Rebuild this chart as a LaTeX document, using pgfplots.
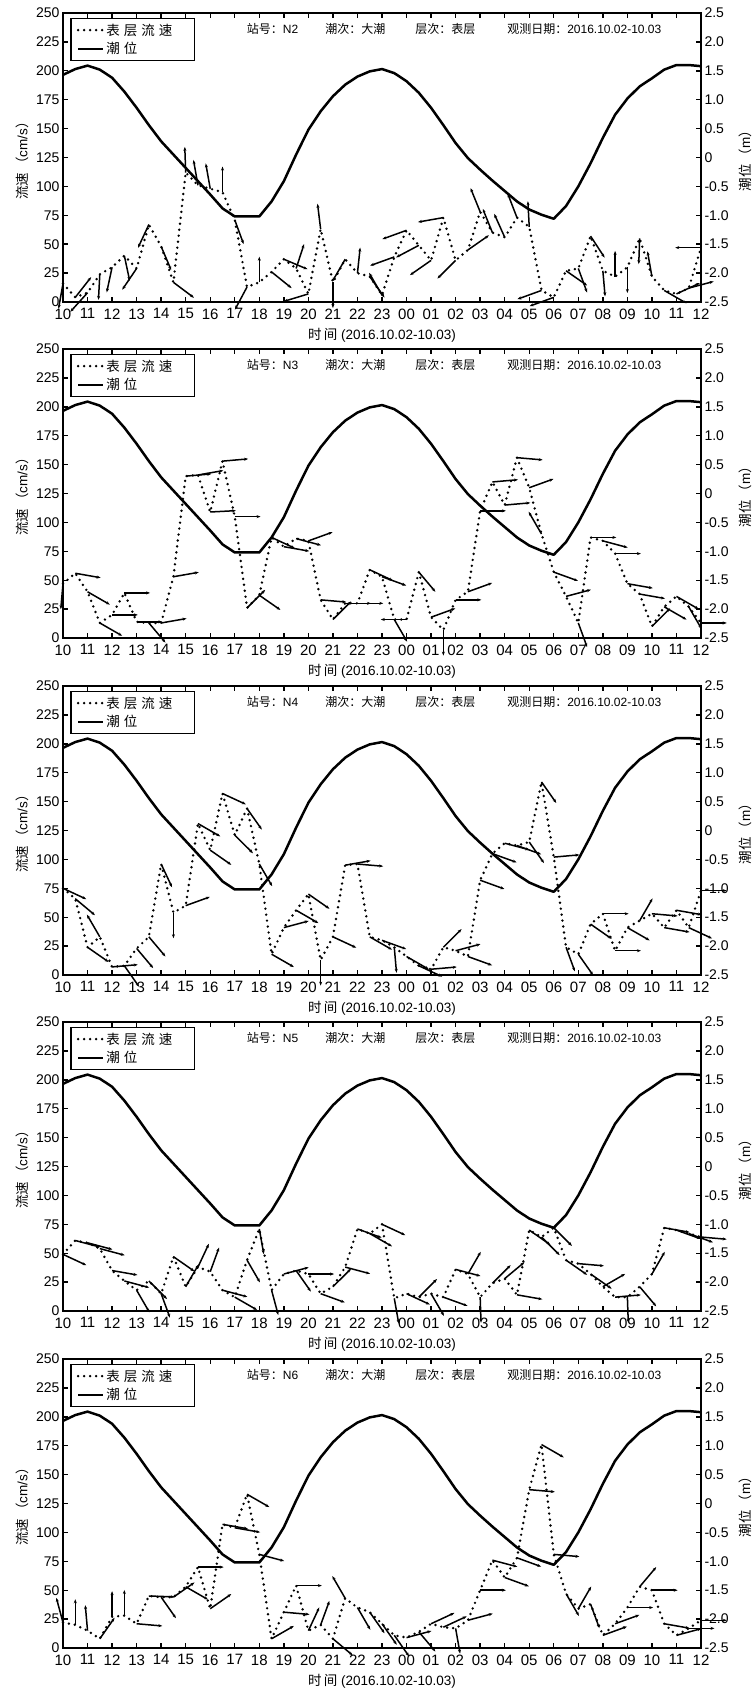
\documentclass[border=0pt]{standalone}
\usepackage{fontspec}
\setmainfont{Liberation Sans}
\newfontfamily\cjk{Noto Sans CJK SC}
\usepackage{pgfplots}
\pgfplotsset{compat=1.18}
\usepackage{pgfplotstable}
\usetikzlibrary{arrows.meta}

% tide level (m), hours after 10:00
\pgfplotstableread[row sep=\\]{t h\\
0 1.43\\ 0.5 1.53\\ 1 1.59\\ 1.5 1.52\\ 2 1.38\\ 2.5 1.14\\ 3 0.86\\ 3.5 0.56\\ 4 0.28\\ 4.5 0.05\\
5 -0.18\\ 5.5 -0.41\\ 6 -0.64\\ 6.5 -0.88\\ 7 -1.02\\ 7.5 -1.02\\ 8 -1.02\\ 8.5 -0.76\\ 9 -0.41\\ 9.5 0.05\\
10 0.48\\ 10.5 0.80\\ 11 1.06\\ 11.5 1.26\\ 12 1.40\\ 12.5 1.49\\ 13 1.53\\ 13.5 1.46\\ 14 1.32\\ 14.5 1.12\\
15 0.86\\ 15.5 0.56\\ 16 0.25\\ 16.5 -0.01\\ 17 -0.21\\ 17.5 -0.40\\ 18 -0.58\\ 18.5 -0.76\\ 19 -0.90\\ 19.5 -0.99\\
20 -1.06\\ 20.5 -0.84\\ 21 -0.50\\ 21.5 -0.10\\ 22 0.34\\ 22.5 0.74\\ 23 1.02\\ 23.5 1.23\\ 24 1.37\\ 24.5 1.52\\
25 1.60\\ 25.5 1.60\\ 26 1.58\\}\tideT

% speed (cm/s) and vector direction (deg) per station
\pgfplotstableread[row sep=\\]{t v a\\
0 16 -100\\ 0.5 4 52\\ 1 8 228\\ 1.5 24 -93\\ 2 30 -102\\ 2.5 40 -78\\ 3 29 236\\ 3.5 67 245\\ 4 48 -67\\ 4.5 17 -37\\
5 112 92\\ 5.5 101 100\\ 6 98 100\\ 6.5 95 90\\ 7 71 -70\\ 7.5 13 242\\ 8 17 90\\ 8.5 26 -39\\ 9 37 -23\\ 9.5 29 72\\
10 7 197\\ 10.5 63 97\\ 11 17 -90\\ 11.5 37 240\\ 12 25 84\\ 12.5 22 -55\\ 13 6 120\\ 13.5 39 200\\ 14 62 200\\ 14.5 49 208\\
15 36 215\\ 15.5 73 190\\ 16 36 225\\ 16.5 45 35\\ 17 78 112\\ 17.5 60 112\\ 18 56 114\\ 18.5 73 111\\ 19 65 93\\ 19.5 10 200\\
20 4 200\\ 20.5 27 -35\\ 21 29 -70\\ 21.5 57 -57\\ 22 27 -85\\ 22.5 22 90\\ 23 30 -90\\ 23.5 55 -92\\ 24 22 100\\ 24.5 10 -30\\
25 7 25\\ 25.5 12 15\\ 26 47 180\\}\sA

\pgfplotstableread[row sep=\\]{t v a\\
0 47 -95\\ 0.5 56 -10\\ 1 40 -30\\ 1.5 13 -30\\ 2 20 0\\ 2.5 39 0\\ 3 14 0\\ 3.5 13 -50\\ 4 13 10\\ 4.5 53 10\\
5 140 5\\ 5.5 141 10\\ 6 109 3\\ 6.5 153 5\\ 7 105 0\\ 7.5 26 45\\ 8 37 -35\\ 8.5 87 -25\\ 9 79 -10\\ 9.5 86 -15\\
10 84 20\\ 10.5 33 -5\\ 11 16 45\\ 11.5 30 0\\ 12 30 0\\ 12.5 59 -25\\ 13 53 -20\\ 13.5 16 -60\\ 14 16 180\\ 14.5 57 -50\\
15 18 20\\ 15.5 7 -90\\ 16 33 0\\ 16.5 40 20\\ 17 110 0\\ 17.5 135 5\\ 18 115 5\\ 18.5 156 -5\\ 19 130 20\\ 19.5 90 120\\
20 57 -20\\ 20.5 36 15\\ 21 13 -70\\ 21.5 87 0\\ 22 84 -15\\ 22.5 73 0\\ 23 47 -10\\ 23.5 38 -10\\ 24 10 45\\ 24.5 27 -30\\
25 36 -30\\ 25.5 27 -60\\ 26 13 0\\}\sB

\pgfplotstableread[row sep=\\]{t v a\\
0 75 -25\\ 0.5 66 -40\\ 1 24 -35\\ 1.5 33 120\\ 2 7 5\\ 2.5 8 -55\\ 3 23 -50\\ 3.5 33 -50\\ 4 96 -65\\ 4.5 54 -90\\
5 60 20\\ 5.5 131 -30\\ 6 108 -35\\ 6.5 157 -25\\ 7 121 -45\\ 7.5 144 -55\\ 8 96 -60\\ 8.5 18 -30\\ 9 41 15\\ 9.5 56 -30\\
10 70 -35\\ 10.5 13 -90\\ 11 33 -25\\ 11.5 95 10\\ 12 96 -5\\ 12.5 33 -30\\ 13 30 -20\\ 13.5 24 -85\\ 14 16 -30\\ 14.5 8 -25\\
15 5 5\\ 15.5 24 45\\ 16 21 15\\ 16.5 16 -20\\ 17 82 -20\\ 17.5 105 -20\\ 18 114 -15\\ 18.5 112 -20\\ 19 115 -55\\ 19.5 167 -55\\
20 102 5\\ 20.5 24 -70\\ 21 18 -55\\ 21.5 44 -35\\ 22 53 0\\ 22.5 21 0\\ 23 41 -30\\ 23.5 47 60\\ 24 53 -5\\ 24.5 41 -10\\
25 56 -10\\ 25.5 41 -25\\ 26 73 0\\}\sC

\pgfplotstableread[row sep=\\]{t v a\\
0 49 -25\\ 0.5 61 -15\\ 1 59 -15\\ 1.5 54 -15\\ 2 35 -10\\ 2.5 26 -15\\ 3 18 -60\\ 3.5 26 -45\\ 4 15 -70\\ 4.5 47 -35\\
5 21 60\\ 5.5 38 65\\ 6 34 70\\ 6.5 18 -15\\ 7 12 -30\\ 7.5 44 -60\\ 8 71 -80\\ 8.5 18 -75\\ 9 32 15\\ 9.5 35 -55\\
10 32 0\\ 10.5 15 -20\\ 11 21 45\\ 11.5 38 -15\\ 12 71 -20\\ 12.5 67 -30\\ 13 75 -25\\ 13.5 11 -80\\ 14 15 -25\\ 14.5 12 45\\
15 15 -60\\ 15.5 12 -20\\ 16 36 -15\\ 16.5 32 60\\ 17 12 -88\\ 17.5 24 45\\ 18 28 40\\ 18.5 14 -10\\ 19 70 -35\\ 19.5 64 -45\\
20 72 -45\\ 20.5 44 -35\\ 21 41 -5\\ 21.5 32 -35\\ 22 21 30\\ 22.5 12 5\\ 23 12 -88\\ 23.5 21 -50\\ 24 32 60\\ 24.5 72 -10\\
25 70 -20\\ 25.5 67 -20\\ 26 64 -5\\}\sD

\pgfplotstableread[row sep=\\]{t v a\\
0 22 105\\ 0.5 20 90\\ 1 15 95\\ 1.5 8 55\\ 2 27 90\\ 2.5 28 90\\ 3 21 -5\\ 3.5 45 -2\\ 4 44 -55\\ 4.5 44 35\\
5 53 -30\\ 5.5 70 0\\ 6 34 35\\ 6.5 107 -10\\ 7 104 -10\\ 7.5 133 -30\\ 8 81 -15\\ 8.5 8 30\\ 9 31 -5\\ 9.5 54 0\\
10 15 65\\ 10.5 20 70\\ 11 8 -40\\ 11.5 43 120\\ 12 35 -60\\ 12.5 31 -55\\ 13 21 -55\\ 13.5 11 -55\\ 14 9 15\\ 14.5 14 -50\\
15 21 25\\ 15.5 18 25\\ 16 17 -80\\ 16.5 24 15\\ 17 50 0\\ 17.5 76 -15\\ 18 61 -20\\ 18.5 78 -20\\ 19 137 -5\\ 19.5 176 -30\\
20 81 -5\\ 20.5 47 -60\\ 21 34 60\\ 21.5 38 -70\\ 22 11 20\\ 22.5 21 20\\ 23 35 0\\ 23.5 53 50\\ 24 50 0\\ 24.5 21 -10\\
25 11 15\\ 25.5 17 0\\ 26 24 0\\}\sE

\tikzset{hdr/.style={anchor=west, inner sep=0pt, font=\fontsize{12}{13}\selectfont}}

\pgfplotsset{
  spd/.style={black, line width=2.7pt, line cap=round, dash pattern=on 0pt off 6pt},
  tide/.style={black, line width=2.5pt, line join=round},
  vec/.style={black, line width=1.5pt, -{Stealth[length=4pt,width=3pt]}},
  base/.style={scale only axis, width=638pt, height=289pt, xmin=0, xmax=26, clip=false,
    axis line style={line width=2.2pt}, tick align=inside, major tick length=5pt,
    every tick/.style={black, line width=1.4pt},
    yticklabel style={font=\fontsize{14}{14}\selectfont},
    label style={font=\fontsize{13.5}{14}\selectfont}},
  speedax/.style={base, ymin=0, ymax=250, ytick={0,25,...,250},
    yticklabels={0,25,50,75,100,125,150,175,200,225,250}, ytick pos=left,
    xtick={0,...,26},
    xticklabels={10,11,12,13,14,15,16,17,18,19,20,21,22,23,00,01,02,03,04,05,06,07,08,09,10,11,12},
    xticklabel style={font=\fontsize{15}{15}\selectfont, yshift=-3pt},
    xlabel={{\cjk 时\,间} (2016.10.02-10.03)},
    xlabel style={at={(axis description cs:0.5,-0.114)}, anchor=center},
    ylabel={{\cjk 流速\,（}cm/s{\cjk ）}},
    ylabel style={at={(axis description cs:-0.064,0.5)}, anchor=center}},
  tideax/.style={base, ymin=-2.5, ymax=2.5, ytick={-2.5,-2,...,2.5},
    yticklabels={-2.5,-2.0,-1.5,-1.0,-0.5,0,0.5,1.0,1.5,2.0,2.5},
    hide x axis, ytick pos=right, yticklabel pos=right,
    ylabel={{\cjk 潮位\,（}m{\cjk ）}},
    ylabel style={at={(axis description cs:1.069,0.5)}, anchor=center},
    legend style={at={(rel axis cs:0.011,0.983)}, anchor=north west, draw=black,
      line width=1.5pt, font=\fontsize{13.5}{15}\selectfont\cjk,
      inner xsep=6pt, inner ysep=3pt, row sep=2pt,
      nodes={text width=80pt}},
    legend cell align=left,
    legend image code/.code={\draw[#1] (0pt,0pt) -- (25pt,0pt);}},
}

\newcommand\panel[3]{%
\begin{axis}[speedax, at={(0pt,-#1pt)}]
  \addplot[spd] table[x=t,y=v]{#3};
  \addplot[vec, quiver={u={1.05*cos(\thisrow{a})}, v={22.2*sin(\thisrow{a})}}] table[x=t,y=v]{#3};
  \node[hdr] at (rel axis cs:0.288,0.945) {{\cjk 站号：}#2};
  \node[hdr] at (rel axis cs:0.411,0.945) {\cjk 潮次：大潮};
  \node[hdr] at (rel axis cs:0.552,0.945) {\cjk 层次：表层};
  \node[hdr] at (rel axis cs:0.696,0.945) {{\cjk 观测日期：}2016.10.02-10.03};
\end{axis}
\begin{axis}[tideax, at={(0pt,-#1pt)}]
  \addlegendimage{spd}
  \addlegendentry{表\hspace{4pt}层\hspace{4pt}流\hspace{4pt}速}
  \addplot[tide] table[x=t,y=h]{\tideT};
  \addlegendentry{潮\hspace{4pt}位}
\end{axis}}

\begin{document}
\begin{tikzpicture}
\panel{0}{N2}{\sA}
\panel{336}{N3}{\sB}
\panel{673}{N4}{\sC}
\panel{1009}{N5}{\sD}
\panel{1346}{N6}{\sE}
\pgfresetboundingbox
\path[use as bounding box] (-63pt,-1389pt) rectangle (690pt,302pt);
\end{tikzpicture}
\end{document}
